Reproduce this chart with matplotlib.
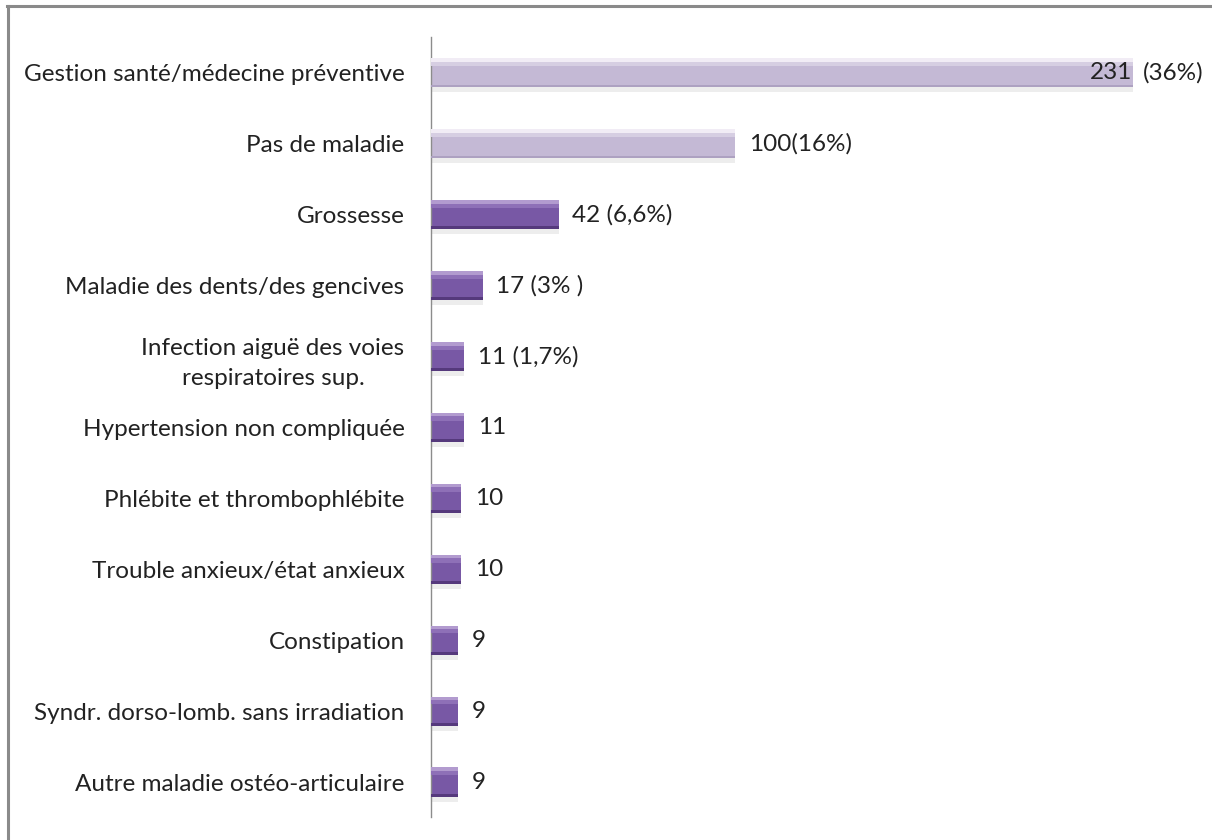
import matplotlib
matplotlib.use('Agg')
import matplotlib.pyplot as plt
from matplotlib.lines import Line2D

plt.rcParams['font.family'] = ['Lato', 'DejaVu Sans']

# données
categories = [
    'Gestion santé/médecine préventive',
    'Pas de maladie',
    'Grossesse',
    'Maladie des dents/des gencives',
    'Infection aiguë des voies\nrespiratoires sup.',
    'Hypertension non compliquée',
    'Phlébite et thrombophlébite',
    'Trouble anxieux/état anxieux',
    'Constipation',
    'Syndr. dorso-lomb. sans irradiation',
    'Autre maladie ostéo-articulaire',
]
values = [231, 100, 42, 17, 11, 11, 10, 10, 9, 9, 9]
value_labels = ['231', '100(16%)', '42 (6,6%)', '17 (3% )', '11 (1,7%)',
                '11', '10', '10', '9', '9', '9']
first_pct = '(36%)'
light_count = 2  # les deux premières barres en lavande clair

fig = plt.figure(figsize=(12.12, 8.4), dpi=100)
ax = fig.add_axes([0.3556, 0.0268, 0.6144, 0.9286])

y = list(range(len(values)))
h = 0.41
main_colors = ['#C4B9D5' if i < light_count else '#7858A5' for i in y]
mid_colors = ['#D6CEE2' if i < light_count else '#8E70B7' for i in y]
top_colors = ['#F1ECF5' if i < light_count else '#B29BCF' for i in y]
bot_colors = ['#ADA1C1' if i < light_count else '#55397C' for i in y]

# ombre
ax.barh([i + 0.07 for i in y], values, height=h, color='#000000',
        alpha=0.07, zorder=1)
# barre principale
ax.barh(y, values, height=h, color=main_colors, zorder=2)
# reflets haut
ax.barh([i - h / 2 + 0.075 for i in y], values, height=0.07, color=mid_colors, zorder=3)
ax.barh([i - h / 2 + 0.025 for i in y], values, height=0.05, color=top_colors, zorder=3)
# bord bas
ax.barh([i + h / 2 - 0.02 for i in y], values, height=0.04, color=bot_colors, zorder=3)

fs = 17.5
tc = '#222222'
for i, (v, lab) in enumerate(zip(values, value_labels)):
    if i == 0:
        ax.text(v - 0.5, i, lab, ha='right', va='center', fontsize=fs, color=tc, zorder=5)
        ax.text(v + 3, i, first_pct, ha='left', va='center', fontsize=fs, color=tc)
    else:
        ax.text(v + 4.5, i, lab, ha='left', va='center', fontsize=fs, color=tc)

ax.set_yticks(y)
ax.set_yticklabels(categories, fontsize=fs, color=tc, ha='right',
                   multialignment='center', linespacing=1.55)
ax.tick_params(axis='y', length=0, pad=19)
ax.set_ylim(len(values) - 0.5, -0.5)
ax.set_xlim(0, 244.9)
ax.set_xticks([])
for s in ['top', 'right', 'bottom']:
    ax.spines[s].set_visible(False)
ax.spines['left'].set_color('#8C8C8C')
ax.spines['left'].set_linewidth(1.0)

# cadre gris (haut et gauche)
fig.add_artist(Line2D([8 / 1212, 8 / 1212], [0, 1 - 6 / 840], color='#8A8A8A',
                      linewidth=2.2, transform=fig.transFigure))
fig.add_artist(Line2D([7 / 1212, 1], [1 - 6 / 840, 1 - 6 / 840], color='#8A8A8A',
                      linewidth=2.2, transform=fig.transFigure))

fig.savefig('out.png', dpi=100)
